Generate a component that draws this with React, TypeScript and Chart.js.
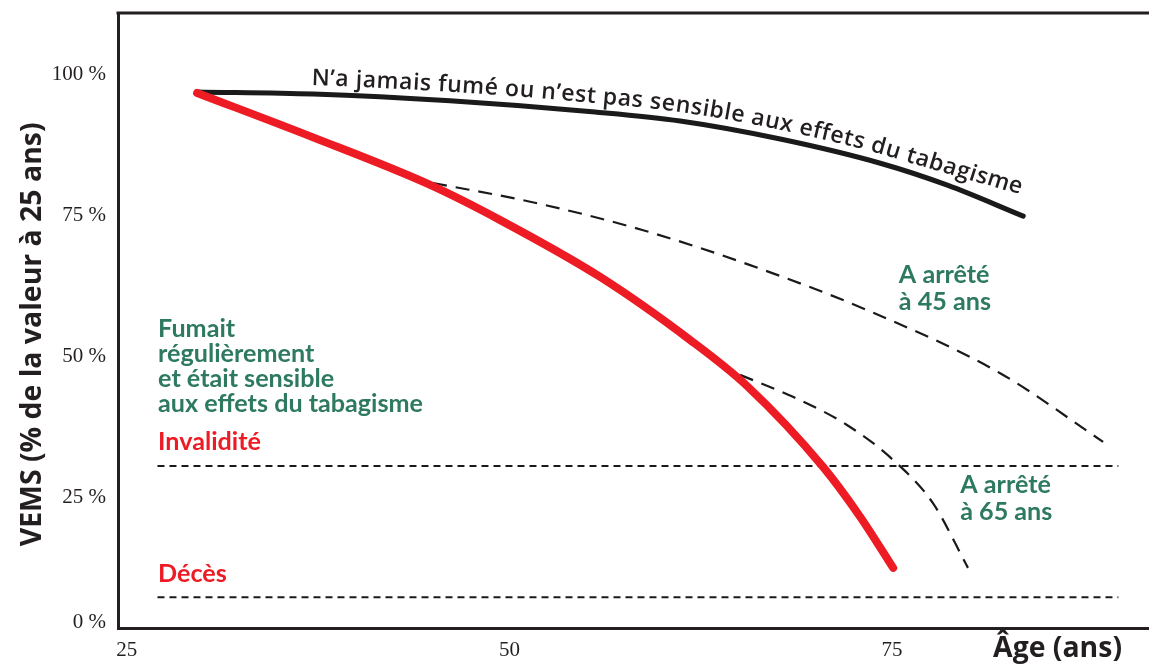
import React, { useEffect, useRef } from 'react';
import { Chart, registerables } from 'chart.js';

Chart.register(...registerables);

// ---- data (age in years, FEV1 in % of value at 25) ----
const AGE_NEVER = [29.59, 37.17, 46.12, 55.6, 61.16, 67.7, 74.24, 78.62, 83.58];
const FEV_NEVER = [96.98, 96.6, 95.4, 93.4, 91.8, 88.6, 84.3, 80.4, 74.9];
const AGE_SMOKER = [29.59, 37.17, 44.82, 49.4, 55.93, 61.81, 65.54, 70.51, 72.93, 75.08];
const FEV_SMOKER = [96.8, 88.9, 80.45, 74.2, 64.1, 52.9, 44.7, 30.3, 21.45, 12.4];
const AGE_QUIT45 = [45.01, 51.81, 58.74, 65.73, 73.38, 82.07, 88.8];
const FEV_QUIT45 = [80.8, 77.2, 72.4, 66.2, 58.2, 47.0, 34.8];
const AGE_QUIT65 = [65.07, 68.53, 72.06, 75.07, 77.68, 79.97];
const FEV_QUIT65 = [46.7, 42.8, 37.8, 31.6, 23.9, 12.4];
const THRESHOLD_AGES = [27.0, 89.8];
const DISABILITY_LEVEL = 30.5;
const DEATH_LEVEL = 7.2;
const X_TICKS = [25, 50, 75];
const Y_TICKS = [0, 25, 50, 75, 100];
const Y_TICK_LABELS = ['0 %', '25 %', '50 %', '75 %', '100 %'];

const NEVER_LABEL = 'N\u2019a jamais fumé ou n\u2019est pas sensible aux effets du tabagisme';
const SMOKER_LABEL = ['Fumait', 'régulièrement', 'et était sensible', 'aux effets du tabagisme'];
const QUIT45_LABEL = ['A arrêté', 'à 45 ans'];
const QUIT65_LABEL = ['A arrêté', 'à 65 ans'];
const DISABILITY_LABEL = 'Invalidité';
const DEATH_LABEL = 'Décès';
const Y_TITLE = 'VEMS (% de la valeur à 25 ans)';
const X_TITLE = 'Âge (ans)';

const AXIS = '#231f20';
const RED = '#ed1c24';
const GREEN = '#2e7a60';

const zip = (xs: number[], ys: number[]) => xs.map((x, i) => ({ x, y: ys[i] }));

function fitFont(ctx: CanvasRenderingContext2D, text: string, weight: string, family: string, width: number) {
  ctx.font = `${weight} 100px ${family}`;
  const size = (100 * width) / ctx.measureText(text).width;
  ctx.font = `${weight} ${size.toFixed(2)}px ${family}`;
  return size;
}

function samplePath(meta: any) {
  const pts = meta.data as any[];
  const out: { x: number; y: number }[] = [];
  for (let i = 0; i < pts.length - 1; i++) {
    const a = pts[i], b = pts[i + 1];
    const c1x = a.cp2x ?? a.x, c1y = a.cp2y ?? a.y;
    const c2x = b.cp1x ?? b.x, c2y = b.cp1y ?? b.y;
    const N = 60;
    for (let k = 0; k < N; k++) {
      const t = k / N, u = 1 - t;
      out.push({
        x: u * u * u * a.x + 3 * u * u * t * c1x + 3 * u * t * t * c2x + t * t * t * b.x,
        y: u * u * u * a.y + 3 * u * u * t * c1y + 3 * u * t * t * c2y + t * t * t * b.y,
      });
    }
  }
  const l = pts[pts.length - 1];
  out.push({ x: l.x, y: l.y });
  return out;
}

const annotationPlugin = {
  id: 'annotationPlugin',
  afterDraw(chart: any) {
    const { ctx, chartArea: ca, scales } = chart;
    const xs = scales.x, ys = scales.y;
    const X = (v: number) => xs.getPixelForValue(v);
    const Y = (v: number) => ys.getPixelForValue(v);
    ctx.save();

    // top frame line
    ctx.strokeStyle = AXIS;
    ctx.lineWidth = 3;
    ctx.beginPath();
    ctx.moveTo(ca.left - 1.5, ca.top);
    ctx.lineTo(ca.right, ca.top);
    ctx.stroke();

    // y title
    ctx.save();
    ctx.translate(33, Y(53.9));
    ctx.rotate(-Math.PI / 2);
    fitFont(ctx, Y_TITLE, '700', '"Open Sans"', 424);
    ctx.fillStyle = AXIS;
    ctx.textAlign = 'center';
    ctx.textBaseline = 'middle';
    ctx.fillText(Y_TITLE, 0, 0);
    ctx.restore();

    // x title
    fitFont(ctx, X_TITLE, '700', '"Open Sans"', 129);
    ctx.fillStyle = AXIS;
    ctx.textAlign = 'right';
    ctx.textBaseline = 'alphabetic';
    ctx.fillText(X_TITLE, ca.right - 27, ca.bottom + 29);

    // green / red labels
    ctx.textAlign = 'left';
    fitFont(ctx, SMOKER_LABEL[3], '700', 'Lato', 265);
    ctx.fillStyle = GREEN;
    SMOKER_LABEL.forEach((t, i) => ctx.fillText(t, X(27.04), Y(53.4) + i * 25));
    QUIT45_LABEL.forEach((t, i) => ctx.fillText(t, X(75.45), Y(63.0) + i * 26.7));
    QUIT65_LABEL.forEach((t, i) => ctx.fillText(t, X(79.46), Y(25.66) + i * 26.7));
    ctx.fillStyle = RED;
    ctx.fillText(DISABILITY_LABEL, X(27.04), Y(33.27));
    ctx.fillText(DEATH_LABEL, X(27.04), Y(9.95));

    // curved label along never-smoked curve
    const meta = chart.getDatasetMeta(1);
    const path = samplePath(meta);
    const cum = [0];
    for (let i = 1; i < path.length; i++) {
      cum.push(cum[i - 1] + Math.hypot(path[i].x - path[i - 1].x, path[i].y - path[i - 1].y));
    }
    const at = (s: number) => {
      let i = 1;
      while (i < cum.length - 1 && cum[i] < s) i++;
      const a = path[i - 1], b = path[i];
      const seg = cum[i] - cum[i - 1] || 1;
      const t = (s - cum[i - 1]) / seg;
      return { x: a.x + (b.x - a.x) * t, y: a.y + (b.y - a.y) * t, ang: Math.atan2(b.y - a.y, b.x - a.x) };
    };
    const sAtX = (px: number) => {
      for (let i = 0; i < path.length; i++) if (path[i].x >= px) return cum[i];
      return cum[cum.length - 1];
    };
    const s0 = sAtX(X(36.97));
    const s1 = sAtX(X(83.0));
    ctx.font = '600 23px "Open Sans"';
    const chars = Array.from(NEVER_LABEL);
    const widths = chars.map((c) => ctx.measureText(c).width);
    const total = widths.reduce((a, b) => a + b, 0);
    const extra = (s1 - s0 - total) / (chars.length - 1);
    ctx.fillStyle = AXIS;
    ctx.textAlign = 'center';
    ctx.textBaseline = 'alphabetic';
    const xBend0 = X(75), xBend1 = X(83.5);
    let s = s0;
    chars.forEach((ch, i) => {
      const w = widths[i];
      const p = at(s + w / 2);
      const k = Math.max(0, Math.min(1, (p.x - xBend0) / (xBend1 - xBend0)));
      const off = 9 + 12 * k * k;
      const ang = p.ang - 0.12 * k;
      const nx = Math.sin(ang), ny = -Math.cos(ang);
      ctx.save();
      ctx.translate(p.x + nx * off, p.y + ny * off);
      ctx.rotate(ang);
      ctx.fillText(ch, 0, 0);
      ctx.restore();
      s += w + extra;
    });

    ctx.restore();
  },
};

export default function App() {
  const ref = useRef<HTMLCanvasElement>(null);
  useEffect(() => {
    document.body.style.margin = '0';
    const canvas = ref.current!;
    const lineBase = { pointRadius: 0, fill: false, cubicInterpolationMode: 'monotone' as const };
    const chart = new Chart(canvas, {
      type: 'line',
      data: {
        datasets: [
          { ...lineBase, label: 'smoker', data: zip(AGE_SMOKER, FEV_SMOKER), borderColor: RED, borderWidth: 8, borderCapStyle: 'round' },
          { ...lineBase, label: 'never', data: zip(AGE_NEVER, FEV_NEVER), borderColor: '#1a1a1a', borderWidth: 5, borderCapStyle: 'round' },
          { ...lineBase, label: 'quit45', data: zip(AGE_QUIT45, FEV_QUIT45), borderColor: '#1a1a1a', borderWidth: 2.2, borderDash: [14, 9] },
          { ...lineBase, label: 'quit65', data: zip(AGE_QUIT65, FEV_QUIT65), borderColor: '#1a1a1a', borderWidth: 2.2, borderDash: [14, 9] },
          { ...lineBase, label: 'disability', data: zip(THRESHOLD_AGES, [DISABILITY_LEVEL, DISABILITY_LEVEL]), borderColor: '#1a1a1a', borderWidth: 2, borderDash: [7, 5] },
          { ...lineBase, label: 'death', data: zip(THRESHOLD_AGES, [DEATH_LEVEL, DEATH_LEVEL]), borderColor: '#1a1a1a', borderWidth: 2, borderDash: [7, 5] },
        ] as any,
      },
      options: {
        animation: false,
        responsive: true,
        maintainAspectRatio: false,
        layout: { padding: { top: 13, left: 0, right: 0, bottom: 0 } },
        plugins: { legend: { display: false }, tooltip: { enabled: false } },
        events: [],
        scales: {
          x: {
            type: 'linear',
            min: 24.42,
            max: 91.8,
            grid: { display: false, drawTicks: false },
            border: { display: true, width: 3, color: AXIS },
            ticks: { padding: 10, color: AXIS, font: { family: 'Liberation Serif', size: 21 }, callback: (v: any) => String(v) },
            afterBuildTicks: (sc: any) => { sc.ticks = X_TICKS.map((v) => ({ value: v })); },
            afterFit: (sc: any) => { sc.height = 41; sc.paddingLeft = 0; sc.paddingRight = 0; },
          },
          y: {
            type: 'linear',
            min: 1.72,
            max: 111.0,
            grid: { display: false, drawTicks: false },
            border: { display: true, width: 3, color: AXIS },
            ticks: {
              padding: 12,
              color: AXIS,
              font: { family: 'Liberation Serif', size: 21, lineHeight: 1.45 },
              callback: (v: any) => {
                const i = Y_TICKS.indexOf(Number(v));
                const lab = i >= 0 ? Y_TICK_LABELS[i] : String(v);
                return Number(v) === 0 ? [lab, ''] : lab;
              },
            },
            afterBuildTicks: (sc: any) => { sc.ticks = Y_TICKS.map((v) => ({ value: v })); },
            afterFit: (sc: any) => { sc.width = 118; sc.paddingTop = 0; sc.paddingBottom = 0; },
          },
        },
      } as any,
      plugins: [annotationPlugin],
    });
    return () => chart.destroy();
  }, []);
  return (
    <div style={{ width: 1149, height: 669, position: 'relative' }}>
      <canvas ref={ref} />
    </div>
  );
}
